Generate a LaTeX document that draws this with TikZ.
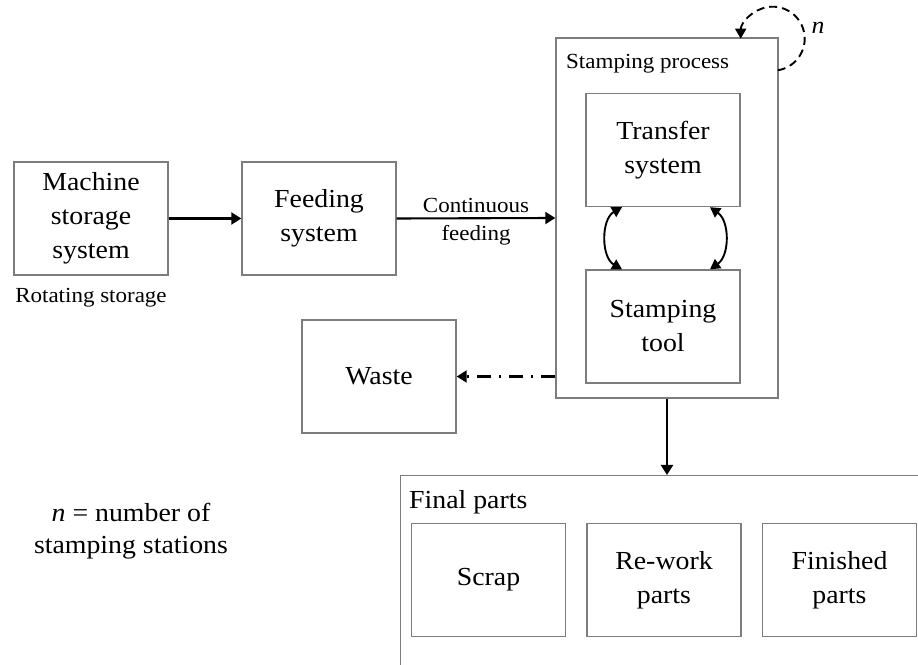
\documentclass[tikz,border=0pt]{standalone}
\usepackage{fontspec}
\setmainfont{Liberation Serif}[FakeStretch=1.07]
\usetikzlibrary{arrows.meta,calc}
\definecolor{boxgray}{RGB}{125,125,125}
\begin{document}
\begin{tikzpicture}[x=1pt,y=1pt,
  box/.style={draw=boxgray, line width=1.4pt, minimum width=154pt, minimum height=113pt,
              inner sep=0pt, align=center, font=\fontsize{26}{34}\selectfont},
  bigbox/.style={draw=boxgray, line width=1.4pt, inner sep=0pt},
  lbl/.style={inner sep=0pt, font=\fontsize{21.5}{28}\selectfont},
  biglbl/.style={inner sep=0pt, align=center, font=\fontsize{26}{32}\selectfont},
  arr/.style={line width=2.1pt, -{Triangle[length=10pt,width=12pt]}},
  darr/.style={line width=1.9pt, {Triangle[length=10pt,width=11pt]}-{Triangle[length=10pt,width=11pt]}},
  dashdotarr/.style={line width=2.1pt, dash pattern=on 14pt off 8pt on 2pt off 8pt, -{Triangle[length=10pt,width=12pt]}},
  looparr/.style={line width=1.9pt, dash pattern=on 8pt off 5pt, -{Triangle[length=10pt,width=11pt]}}
]
\useasboundingbox (0,0) rectangle (918,664);
\clip (0,0) rectangle (918,664);

% left chain
\node[box] (machine) at (91,445.5) {Machine\\storage\\system};
\node[lbl, anchor=base] (rot) at (91,361) {Rotating storage};
\node[box] (feeding) at (319,445.5) {Feeding\\system};

% stamping process
\node[bigbox, minimum width=222pt, minimum height=360pt] (sp) at (667,446) {};
\node[lbl, anchor=base west] (sptitle) at (566,595) {Stamping process};
\node[box] (transfer) at (663,514) {Transfer\\system};
\node[box] (stool) at (663,337.5) {Stamping\\tool};

% waste
\node[box] (waste) at (379,287.5) {Waste};

% final parts
\node[bigbox, minimum width=540pt, minimum height=215pt, anchor=north west] (final) at (400,189) {};
\node[biglbl, anchor=base west] (fptitle) at (409,155) {Final parts};
\node[box] (scrap) at (488.5,84) {Scrap};
\node[box] (rework) at (664,84) {Re-work\\parts};
\node[box] (finished) at (839.5,84) {Finished\\parts};

% note
\node[biglbl] (note) at (131,133) {\textit{n} = number of\\stamping stations};
\node[inner sep=0pt, font=\fontsize{24}{28}\selectfont] (nlbl) at (818,636) {\textit{n}};

% connectors
\draw[arr] (machine.east) -- (feeding.west);
\draw[arr] (feeding.east) --
  node[lbl, anchor=base, yshift=6pt] (cont) {Continuous}
  node[lbl, anchor=base, yshift=-22pt] (feed) {feeding} (sp.west);
\draw[darr] ([xshift=-41pt]transfer.south) to[bend right=60] ([xshift=-41pt]stool.north);
\draw[darr] ([xshift=47pt]transfer.south) to[bend left=55] ([xshift=47pt]stool.north);
\draw[dashdotarr] (sp.west |- waste.east) -- (waste.east);
\draw[arr] (sp.south) -- (sp.south |- final.north);
\coordinate (loopstart) at ($(sp.north east)+(-1,-33)$);
\draw[looparr] (loopstart) arc[start angle=-81, end angle=180, radius=32];
\end{tikzpicture}
\end{document}
